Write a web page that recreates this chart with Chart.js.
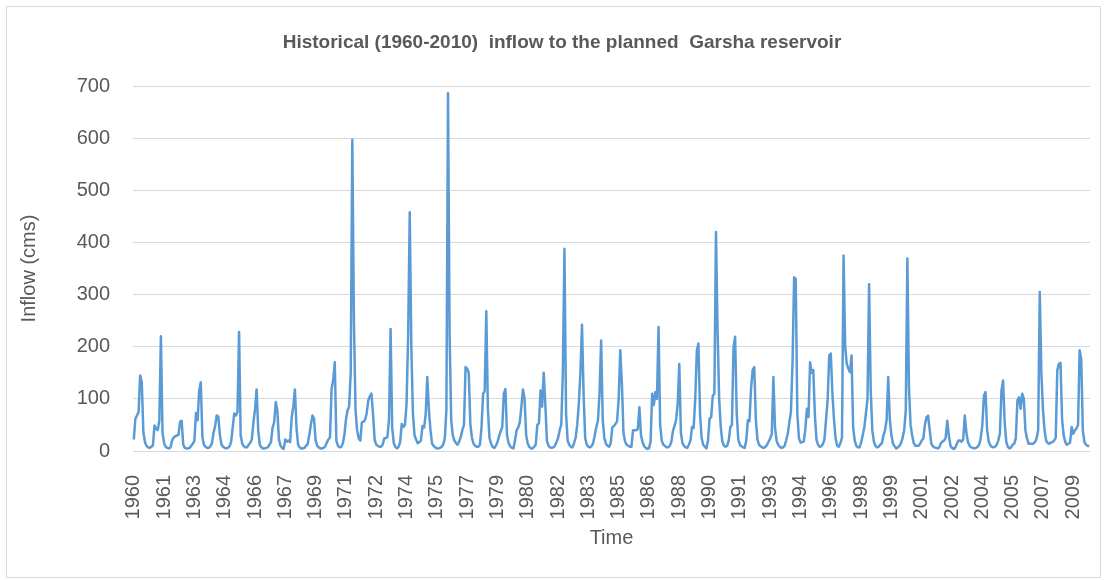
<!DOCTYPE html>
<html>
<head>
<meta charset="utf-8">
<title>Garsha reservoir inflow</title>
<script src="https://cdn.jsdelivr.net/npm/chart.js@4.4.1/dist/chart.umd.min.js"></script>
<style>
  html, body { margin: 0; padding: 0; background: #fff; }
  #frame { position: absolute; left: 6px; top: 6px; width: 1093px; height: 570px; border: 1px solid #d9d9d9; }
  #wrap { position: absolute; left: 0; top: 0; width: 1107px; height: 580px; }
</style>
</head>
<body>
<div id="frame"></div>
<div id="wrap"><canvas id="inflowChart"></canvas></div>
<script>
// monthly inflow (cms), one row per year
const inflow1960s = [
  22, 62, 68, 75, 145, 132, 36, 17, 10, 7, 6, 8,        // 1960
  11, 49, 43, 40, 58, 220, 35, 15, 8, 6, 5, 7,          // 1961
  20, 26, 28, 30, 31, 56, 58, 12, 6, 5, 5, 6,           // 1962
  10, 14, 20, 73, 59, 116, 132, 27, 12, 8, 6, 6,        // 1963
  9, 15, 35, 48, 68, 66, 30, 12, 8, 6, 5, 6,            // 1964
  9, 17, 45, 72, 68, 75, 228, 30, 14, 9, 7, 7,          // 1965
  12, 16, 22, 55, 80, 118, 40, 12, 7, 5, 5, 6,          // 1966
  7, 12, 17, 45, 55, 94, 78, 22, 10, 6, 4, 22,          // 1967
  18, 20, 17, 65, 85, 118, 45, 12, 7, 5, 5, 6,          // 1968
  10, 13, 30, 50, 68, 62, 20, 10, 7, 5, 5, 6            // 1969
];
const inflow1970s = [
  9, 16, 22, 26, 120, 135, 170, 20, 10, 7, 8, 14,       // 1970
  30, 60, 78, 85, 150, 597, 250, 80, 40, 24, 20, 55,    // 1971
  56, 60, 72, 97, 105, 110, 70, 22, 12, 10, 8, 8,       // 1972
  12, 24, 25, 27, 60, 234, 45, 15, 8, 5, 8, 17,         // 1973
  52, 46, 50, 90, 220, 458, 200, 72, 30, 22, 15, 17,    // 1974
  20, 48, 45, 70, 142, 80, 40, 14, 10, 7, 5, 5,         // 1975
  6, 8, 12, 25, 80, 686, 220, 59, 30, 20, 15, 12,       // 1976
  18, 27, 40, 50, 161, 158, 150, 52, 25, 14, 10, 8,     // 1977
  8, 12, 45, 110, 115, 268, 80, 25, 14, 8, 6, 10,       // 1978
  17, 28, 38, 46, 110, 119, 30, 15, 9, 6, 5, 20         // 1979
];
const inflow1980s = [
  40, 45, 55, 85, 118, 100, 30, 14, 8, 5, 5, 8,         // 1980
  12, 50, 53, 116, 85, 150, 90, 20, 10, 7, 6, 7,        // 1981
  10, 17, 25, 40, 50, 150, 388, 72, 20, 12, 8, 7,       // 1982
  15, 25, 50, 90, 150, 242, 110, 25, 12, 8, 7, 9,       // 1983
  15, 30, 46, 58, 110, 212, 60, 25, 14, 10, 8, 15,      // 1984
  45, 48, 52, 57, 100, 193, 130, 35, 18, 12, 10, 8,     // 1985
  8, 40, 40, 40, 42, 84, 30, 17, 9, 6, 4, 5,            // 1986
  18, 110, 88, 113, 100, 238, 50, 20, 12, 10, 7, 7,     // 1987
  10, 17, 38, 48, 60, 90, 167, 35, 15, 10, 7, 6,        // 1988
  12, 20, 46, 44, 100, 193, 206, 72, 25, 12, 8, 5       // 1989
];
const inflow1990s = [
  20, 62, 65, 106, 110, 420, 231, 100, 46, 18, 10, 8,   // 1990
  10, 20, 46, 50, 199, 219, 72, 22, 12, 9, 7, 6,        // 1991
  20, 59, 57, 120, 155, 161, 60, 22, 12, 9, 7, 6,       // 1992
  8, 12, 18, 24, 33, 142, 45, 20, 12, 8, 6, 7,          // 1993
  10, 20, 33, 55, 75, 170, 333, 330, 72, 25, 16, 17,    // 1994
  18, 40, 81, 65, 170, 150, 155, 70, 22, 12, 8, 9,      // 1995
  13, 22, 60, 97, 183, 187, 110, 60, 24, 10, 8, 15,     // 1996
  25, 375, 200, 167, 158, 151, 183, 45, 20, 10, 7, 7,   // 1997
  16, 30, 45, 72, 100, 320, 120, 40, 18, 10, 7, 8,      // 1998
  12, 15, 30, 40, 60, 142, 60, 30, 14, 9, 5, 7          // 1999
];
const inflow2000s = [
  10, 15, 25, 40, 78, 369, 120, 50, 30, 15, 10, 10,     // 2000
  10, 14, 20, 24, 50, 65, 68, 40, 14, 9, 7, 6,          // 2001
  5, 7, 15, 18, 20, 25, 58, 30, 10, 6, 4, 6,            // 2002
  14, 20, 20, 18, 22, 68, 35, 17, 10, 7, 6, 5,          // 2003
  6, 8, 12, 25, 50, 106, 113, 40, 18, 11, 8, 7,         // 2004
  8, 12, 20, 33, 116, 135, 55, 18, 8, 5, 7, 12,         // 2005
  14, 24, 97, 103, 81, 110, 100, 40, 24, 14, 14, 14,    // 2006
  14, 17, 24, 40, 305, 150, 80, 40, 20, 15, 14, 16,     // 2007
  17, 20, 25, 155, 167, 169, 60, 30, 17, 12, 14, 16,    // 2008
  46, 33, 40, 43, 50, 193, 176, 40, 17, 12, 10, 9       // 2009
];

const firstYear = 1960;
const lastYear = 2009;
const yTicks = { min: 0, max: 700, step: 100 };
const labelEvery = 19;   // one year label every 19 months, as in the original

const inflow = [].concat(inflow1960s, inflow1970s, inflow1980s, inflow1990s, inflow2000s);

// category per month: its year
const monthLabels = [];
for (let y = firstYear; y <= lastYear; y++) {
  for (let m = 0; m < 12; m++) monthLabels.push(String(y));
}

const FONT = "'Liberation Sans', Arial, sans-serif";
const GREY = '#595959';

new Chart(document.getElementById('inflowChart'), {
  type: 'line',
  data: {
    labels: monthLabels,
    datasets: [{
      label: 'Inflow (cms)',
      data: inflow,
      borderColor: '#5b9bd5',
      borderWidth: 2.5,
      borderJoinStyle: 'round',
      pointRadius: 0,
      tension: 0,
      fill: false
    }]
  },
  options: {
    responsive: true,
    maintainAspectRatio: false,
    animation: false,
    // left padding shifts the title centre the way the original sits
    layout: { padding: { left: 17, right: 0, top: 0, bottom: 0 } },
    plugins: {
      legend: { display: false },
      tooltip: { enabled: false },
      title: {
        display: true,
        text: 'Historical (1960-2010)  inflow to the planned  Garsha reservoir',
        color: GREY,
        font: { family: FONT, size: 19, weight: 'bold' },
        padding: { top: 31.6, bottom: 31.6 }
      }
    },
    scales: {
      x: {
        type: 'category',
        offset: true,
        grid: { display: false },
        border: { display: false },
        ticks: {
          autoSkip: false,
          minRotation: 90,
          maxRotation: 90,
          padding: 16,
          color: GREY,
          font: { family: FONT, size: 20 },
          callback: function (value, index) {
            return index % labelEvery === 0 ? this.getLabelForValue(value) : '';
          }
        },
        title: {
          display: true,
          text: 'Time',
          color: GREY,
          font: { family: FONT, size: 20 },
          padding: { top: 0, bottom: 30 }
        },
        afterFit: (scale) => {
          scale.height = 129;
          scale.paddingLeft = 0;
          scale.paddingRight = 17;
        }
      },
      y: {
        min: yTicks.min,
        max: yTicks.max,
        grid: { color: '#d9d9d9', drawTicks: false },
        border: { display: false },
        ticks: {
          stepSize: yTicks.step,
          padding: 23,
          color: GREY,
          font: { family: FONT, size: 20 }
        },
        title: {
          display: true,
          text: 'Inflow (cms)',
          color: GREY,
          font: { family: FONT, size: 20 },
          padding: { top: 0, bottom: 0 }
        },
        afterFit: (scale) => { scale.width = 116; }
      }
    }
  }
});
</script>
</body>
</html>
